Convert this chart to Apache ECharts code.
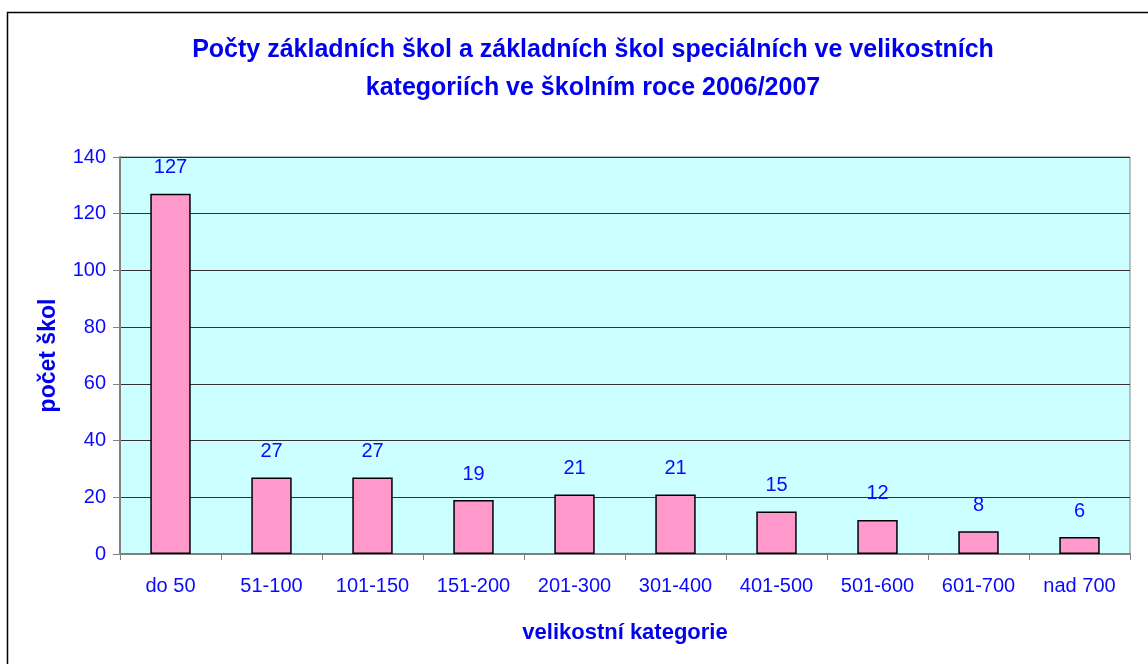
<!DOCTYPE html>
<html>
<head>
<meta charset="utf-8">
<script src="https://cdn.jsdelivr.net/npm/echarts@6/dist/echarts.min.js"></script>
<style>
html,body{margin:0;padding:0;background:#fff;}
#container{width:1148px;height:664px;}
</style>
</head>
<body>
<div id="container"></div>
<script>
var categories = ['do 50','51-100','101-150','151-200','201-300','301-400','401-500','501-600','601-700','nad 700'];
var schoolCounts = [127,27,27,19,21,21,15,12,8,6];
var yTicks = [0,20,40,60,80,100,120,140];

var dom = document.getElementById("container");
var myChart = echarts.init(dom);
var blue = '#0a0aff';
var font = 'Liberation Sans, Arial, sans-serif';

option = {
    backgroundColor:'#ffffff',
    animation:false,
    title : {
        text: 'Počty základních škol a základních škol speciálních ve velikostních\nkategoriích ve školním roce 2006/2007',
        left: 588,
        top: 26,
        textAlign:'center',
        textStyle:{
            color:'#0000ee',
            fontSize:25,
            fontWeight:'bold',
            fontFamily:font,
            lineHeight:38
        }
    },
    graphic:[
        {
            type:'rect',
            shape:{x:7.5,y:12.5,width:1200,height:700},
            style:{fill:'none',stroke:'#000',lineWidth:1.5},
            silent:true
        }
    ],
    grid: {
        left:120,
        right:18,
        top:157,
        bottom:110,
        show:true,
        backgroundColor:'#ccffff',
        borderColor:'#808080',
        borderWidth:1
    },
    xAxis: {
        type: 'category',
        data: categories,
        name:'velikostní kategorie',
        nameLocation:'middle',
        nameGap:68,
        nameTextStyle:{color:'#0000ee',fontSize:22,fontWeight:'bold',fontFamily:font},
        axisLine:{lineStyle:{color:'#808080',width:2}},
        axisTick:{show:true,length:6,alignWithLabel:false,lineStyle:{color:'#808080'}},
        axisLabel:{color:blue,fontSize:20,fontFamily:font,margin:22}
    },
    yAxis: {
        type: 'value',
        min:0,
        max:140,
        interval:20,
        name:'počet škol',
        nameLocation:'middle',
        nameGap:60,
        nameTextStyle:{color:'#0000ee',fontSize:23,fontWeight:'bold',fontFamily:font},
        axisLine:{show:true,lineStyle:{color:'#808080',width:2}},
        axisTick:{show:true,length:7,lineStyle:{color:'#808080'}},
        splitLine:{lineStyle:{color:'#333333',width:1}},
        axisLabel:{
            color:blue,fontSize:20,fontFamily:font,margin:14,
            formatter:function(v){ return yTicks.indexOf(v) >= 0 ? String(v) : ''; }
        }
    },
    series: [
        {
            name:'počet škol',
            type:'bar',
            data: schoolCounts,
            barWidth:'40%',
            itemStyle:{color:'#ff99cc',borderColor:'#000000',borderWidth:1.5},
            label:{show:true,position:'top',distance:16,color:blue,fontSize:20,fontFamily:font}
        }
    ]
};

if (option && typeof option === "object") {
    myChart.setOption(option);
}
</script>
</body>
</html>
